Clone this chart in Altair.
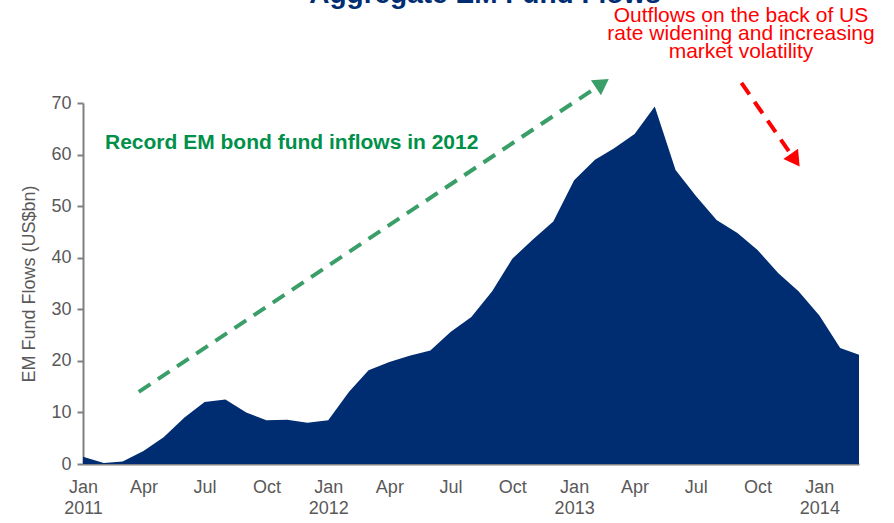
import altair as alt
import pandas as pd

# ---- data ----
months = pd.date_range("2011-01-01", "2014-03-01", freq="MS").strftime("%Y-%m-%d").tolist()
flows = [1.4, 0.2, 0.5, 2.5, 5.2, 9.0, 12.0, 12.5, 10.0, 8.5, 8.6, 8.0,
         8.5, 14.0, 18.2, 19.8, 21.0, 22.0, 25.6, 28.5, 33.5, 39.8, 43.6, 47.0,
         55.0, 59.0, 61.2, 64.0, 69.3, 57.0, 52.0, 47.3, 44.8, 41.5, 37.0, 33.5,
         28.8, 22.5, 21.2]

tick_dates = ["2011-01-01", "2011-04-01", "2011-07-01", "2011-10-01",
              "2012-01-01", "2012-04-01", "2012-07-01", "2012-10-01",
              "2013-01-01", "2013-04-01", "2013-07-01", "2013-10-01",
              "2014-01-01"]
y_ticks = [0, 10, 20, 30, 40, 50, 60, 70]

green_arrow_dates = ["2011-03-25", "2013-02-12"]
green_arrow_vals = [14.0, 73.8]
red_arrow_dates = ["2013-09-07", "2013-11-26"]
red_arrow_vals = [73.9, 58.9]

title_text = "Aggregate EM Fund Flows"
green_text = "Record EM bond fund inflows in 2012"
red_text = ["Outflows on the back of US", "rate widening and increasing", "market volatility"]
y_title = "EM Fund Flows (US$bn)"

NAVY = "#002D72"
GREEN_TXT = "#00904A"
GREEN_ARR = "#3A9E68"
RED = "#FF0000"
GREY = "#595959"
FONT = "Liberation Sans"

df = pd.DataFrame({"date": months, "value": flows})
ga = pd.DataFrame({"date": green_arrow_dates, "value": green_arrow_vals})
ra = pd.DataFrame({"date": red_arrow_dates, "value": red_arrow_vals})

def ts(d):
    return int(pd.Timestamp(d, tz="UTC").timestamp() * 1000)

xscale = alt.Scale(type="utc", domain=[ts("2011-01-01"), ts("2014-03-01")])
yscale = alt.Scale(domain=[0, 70], nice=False)

label_expr = ("utcFormat(datum.value, '%m') == '01' ? "
              "[utcFormat(datum.value, '%b'), utcFormat(datum.value, '%Y')] : "
              "utcFormat(datum.value, '%b')")

x_enc = alt.X("date:T", scale=xscale,
              axis=alt.Axis(values=[ts(d) for d in tick_dates], labelExpr=label_expr,
                            title=None, grid=False, ticks=False, domainColor="#808080",
                            domainWidth=2, labelColor=GREY, labelFont=FONT, labelFontSize=18,
                            labelPadding=14, labelLineHeight=21, labelOverlap=False,
                            labelFlush=False, labelBaseline="top"))
y_enc = alt.Y("value:Q", scale=yscale,
              axis=alt.Axis(values=y_ticks, title=y_title, grid=False, tickSize=6,
                            tickColor="#808080", tickWidth=2, domainColor="#808080",
                            domainWidth=2, labelColor=GREY, labelFont=FONT, labelFontSize=18,
                            labelPadding=6, titleFont=FONT, titleFontSize=18,
                            titleFontWeight="normal", titleColor=GREY, titlePadding=12))

area = alt.Chart(df).mark_area(color=NAVY, opacity=1).encode(x=x_enc, y=y_enc)

garrow = alt.Chart(ga).mark_line(color=GREEN_ARR, strokeWidth=4, strokeDash=[14, 9]).encode(
    x="date:T", y="value:Q")
ghead = alt.Chart(ga.iloc[[1]]).mark_point(shape="triangle-up", filled=True, opacity=1,
                                           color=GREEN_ARR, size=320, angle=56).encode(
    x="date:T", y="value:Q")
rarrow = alt.Chart(ra).mark_line(color=RED, strokeWidth=4, strokeDash=[14, 9]).encode(
    x="date:T", y="value:Q")
rhead = alt.Chart(ra.iloc[[1]]).mark_point(shape="triangle-up", filled=True, opacity=1,
                                           color=RED, size=320, angle=145).encode(
    x="date:T", y="value:Q")

title = alt.Chart(pd.DataFrame({"t": [title_text]})).mark_text(
    font=FONT, fontSize=28, fontWeight="bold", color=NAVY, align="center",
    baseline="alphabetic").encode(text="t:N", x=alt.value(402), y=alt.value(-100))
gtext = alt.Chart(pd.DataFrame({"t": [green_text]})).mark_text(
    font=FONT, fontSize=21, fontWeight="bold", color=GREEN_TXT, align="left",
    baseline="alphabetic").encode(text="t:N", x=alt.value(22), y=alt.value(46))
rtext = alt.Chart(pd.DataFrame({"t": [red_text]})).mark_text(
    font=FONT, fontSize=21, color=RED, align="center", baseline="alphabetic",
    lineHeight=18).encode(text="t", x=alt.value(658), y=alt.value(-81))

chart = alt.layer(area, garrow, ghead, rarrow, rhead, title, gtext, rtext).properties(
    width=776, height=361,
    autosize=alt.AutoSizeParams(type="none"),
    padding={"left": 83, "top": 103, "right": 35, "bottom": 59},
).configure_view(stroke=None)

chart.save("out.html", embed_options={"renderer": "svg", "actions": False})
